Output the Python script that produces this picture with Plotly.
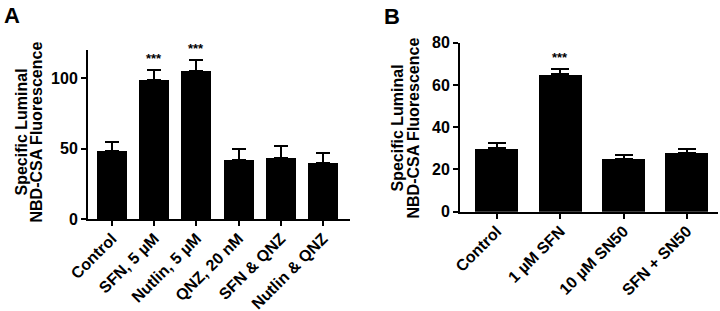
import plotly.graph_objects as go

W, H = 720, 311

# Panel A data
cats_a = ["Control", "SFN, 5 µM", "Nutlin, 5 µM", "QNZ, 20 nM", "SFN & QNZ", "Nutlin & QNZ"]
vals_a = [48, 99, 105, 42, 43, 40]
errs_a = [7, 7, 8, 8, 9, 7]
stars_a = ["", "***", "***", "", "", ""]

# Panel B data
cats_b = ["Control", "1 µM SFN", "10 µM SN50", "SFN + SN50"]
vals_b = [30, 65, 25, 28]
errs_b = [2.7, 2.7, 1.8, 1.9]
stars_b = ["", "***", "", ""]

ytitle = ["Specific Luminal", "NBD-CSA Fluorescence"]

FONT = "Liberation Sans"

def px_x(p):
    return p / W

def px_y(p):
    return 1 - p / H

fig = go.Figure()
fig.add_trace(go.Bar(
    x=cats_a, y=vals_a, xaxis="x", yaxis="y", width=0.71,
    marker=dict(color="black", line=dict(width=0)),
    error_y=dict(type="data", symmetric=False, array=errs_a,
                 arrayminus=[0] * len(errs_a), color="black", thickness=2, width=7),
    showlegend=False))
fig.add_trace(go.Bar(
    x=cats_b, y=vals_b, xaxis="x2", yaxis="y2", width=0.68,
    marker=dict(color="black", line=dict(width=0)),
    error_y=dict(type="data", symmetric=False, array=errs_b,
                 arrayminus=[0] * len(errs_b), color="black", thickness=2, width=9),
    showlegend=False))

tickfont = dict(family=FONT, size=16, color="black", weight="bold")
axcommon = dict(showline=True, linecolor="black", linewidth=2, ticks="outside",
                ticklen=5, tickwidth=2, tickcolor="black", showgrid=False,
                zeroline=False, tickfont=tickfont, automargin=False)

fig.update_layout(
    width=W, height=H, margin=dict(l=0, r=0, t=0, b=0),
    plot_bgcolor="white", paper_bgcolor="white", bargap=0,
    xaxis=dict(domain=[px_x(88), px_x(350)], anchor="y", type="category",
               range=[-0.57, 5.64], tickangle=-45, ticklabelstandoff=-3, **axcommon),
    yaxis=dict(domain=[px_y(219), px_y(50)], anchor="x", range=[0, 120],
               tickvals=[0, 50, 100], **axcommon),
    xaxis2=dict(domain=[px_x(460), px_x(718)], anchor="y2", type="category",
                range=[-0.58, 3.49], tickangle=-45, ticklabelstandoff=-3, **axcommon),
    yaxis2=dict(domain=[px_y(211.7), px_y(42.7)], anchor="x2", range=[0, 80],
                tickvals=[0, 20, 40, 60, 80], **axcommon),
)

ann = []
# panel labels
ann.append(dict(text="A", x=px_x(2), y=px_y(1), xref="paper", yref="paper",
                xanchor="left", yanchor="top", showarrow=False,
                font=dict(family=FONT, size=22, color="black", weight="bold")))
ann.append(dict(text="B", x=px_x(382), y=px_y(2), xref="paper", yref="paper",
                xanchor="left", yanchor="top", showarrow=False,
                font=dict(family=FONT, size=22, color="black", weight="bold")))
# y titles
for xc, line in zip([20.5, 35.5], ytitle):
    ann.append(dict(text=line, x=px_x(xc), y=px_y(132), xref="paper", yref="paper",
                    xanchor="center", yanchor="middle", textangle=-90, showarrow=False,
                    font=dict(family=FONT, size=16, color="black", weight="bold")))
for xc, line in zip([397, 413], ytitle):
    ann.append(dict(text=line, x=px_x(xc), y=px_y(128.5), xref="paper", yref="paper",
                    xanchor="center", yanchor="middle", textangle=-90, showarrow=False,
                    font=dict(family=FONT, size=16, color="black", weight="bold")))
# significance stars
for c, v, e, s in zip(cats_a, vals_a, errs_a, stars_a):
    if s:
        ann.append(dict(text=s, x=c, y=v + e + 1, xref="x", yref="y",
                        xanchor="center", yanchor="bottom", showarrow=False,
                        font=dict(family=FONT, size=13, color="black", weight="bold")))
for c, v, e, s in zip(cats_b, vals_b, errs_b, stars_b):
    if s:
        ann.append(dict(text=s, x=c, y=v + e + 1, xref="x2", yref="y2",
                        xanchor="center", yanchor="bottom", showarrow=False,
                        font=dict(family=FONT, size=13, color="black", weight="bold")))
fig.update_layout(annotations=ann)

fig.write_html("out.html", config={"displayModeBar": False},
               post_script="document.body.style.margin='0';document.body.style.padding='0';")
